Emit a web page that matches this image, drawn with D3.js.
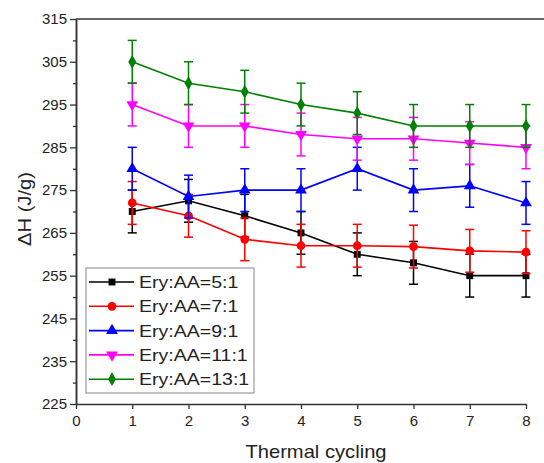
<!DOCTYPE html>
<html>
<head>
<meta charset="utf-8">
<script src="https://cdn.jsdelivr.net/npm/d3@7"></script>
<style>
	body { margin: 0; background: #fff; }
	text { font-family: "Liberation Sans", Arial, sans-serif; fill: #222; }
</style>
</head>
<body>
<div id="chart"></div>
<script>
// data
const cycles = [1, 2, 3, 4, 5, 6, 7, 8];
const labels = ['Ery:AA=5:1', 'Ery:AA=7:1', 'Ery:AA=9:1', 'Ery:AA=11:1', 'Ery:AA=13:1'];
const ery5 = [270, 272.5, 269, 265, 260, 258, 255, 255];
const ery7 = [272, 269, 263.5, 262, 262, 261.8, 260.8, 260.5];
const ery9 = [280, 273.5, 275, 275, 280, 275, 276, 272];
const ery11 = [295, 290, 290, 288, 287, 287, 286, 285];
const ery13 = [305, 300, 298, 295, 293, 290, 290, 290];
const errBar = 5;
const yTicks = [225, 235, 245, 255, 265, 275, 285, 295, 305, 315];
const xTicks = [0, 1, 2, 3, 4, 5, 6, 7, 8];

const colors = ['#000000', '#ff0000', '#0000ff', '#ff00ff', '#008000'];
const symbols = [d3.symbolSquare, d3.symbolCircle, d3.symbolTriangle, 'down', d3.symbolDiamond];
const seriesVals = [ery5, ery7, ery9, ery11, ery13];

const w = 544, h = 463;
const m = { left: 76, right: 18, top: 19, bottom: 59 };

let svg = d3.select('#chart').append('svg')
	.attr('width', w).attr('height', h);

const x = d3.scaleLinear().domain([0, 8]).range([m.left, w - m.right]);
const y = d3.scaleLinear().domain([225, 315]).range([h - m.bottom, m.top]);

// top frame line (figure is cropped on the right)
svg.append('line')
	.attr('x1', m.left).attr('x2', w).attr('y1', y(315)).attr('y2', y(315))
	.attr('stroke', '#333').attr('stroke-width', 1.5);

// axes
let xAxis = svg.append('g')
	.attr('transform', 'translate(0,' + y(225) + ')')
	.call(d3.axisBottom(x).tickValues(xTicks).tickFormat(d3.format('d')).tickSize(5).tickSizeOuter(0));
let yMinor = svg.append('g')
	.attr('transform', 'translate(' + x(0) + ',0)')
	.call(d3.axisLeft(y).tickValues(d3.range(230, 315, 10)).tickFormat('').tickSize(3).tickSizeOuter(0));
let yAxis = svg.append('g')
	.attr('transform', 'translate(' + x(0) + ',0)')
	.call(d3.axisLeft(y).tickValues(yTicks).tickSize(6).tickSizeOuter(0));

[xAxis, yAxis, yMinor].forEach(function(g) {
	g.select('.domain').attr('stroke', '#333').attr('stroke-width', 1.5);
	g.selectAll('.tick line').attr('stroke', '#333').attr('stroke-width', 1.3);
	g.selectAll('.tick text').attr('font-size', 15).attr('fill', '#222')
		.style('font-family', '"Liberation Sans", Arial, sans-serif');
});
xAxis.selectAll('.tick text').attr('dy', '0.9em');
yAxis.selectAll('.tick text').attr('x', -9);

// axis titles
svg.append('text')
	.attr('transform', 'translate(316,458) scale(1.12,1)')
	.attr('text-anchor', 'middle').attr('font-size', 18)
	.text('Thermal cycling');
svg.append('text')
	.attr('transform', 'translate(31,209) rotate(-90) scale(1.12,1)')
	.attr('text-anchor', 'middle').attr('font-size', 18)
	.text('ΔH (J/g)');

function markerPath(sym) {
	if (sym === 'down')
		return d3.symbol(d3.symbolTriangle).size(60)();
	return d3.symbol(sym).size(sym === d3.symbolSquare ? 48 : (sym === d3.symbolDiamond ? 55 : 60))();
}

const line = d3.line().x(function(d, i) { return x(cycles[i]) }).y(function(d) { return y(d) });

seriesVals.forEach(function(vals, s) {
	let g = svg.append('g');
	let c = colors[s];

	// error bars
	vals.forEach(function(v, i) {
		let cx = x(cycles[i]);
		g.append('line')
			.attr('x1', cx).attr('x2', cx).attr('y1', y(v - errBar)).attr('y2', y(v + errBar))
			.attr('stroke', c).attr('stroke-width', 1.5);
		[v - errBar, v + errBar].forEach(function(e) {
			g.append('line')
				.attr('x1', cx - 4.5).attr('x2', cx + 4.5).attr('y1', y(e)).attr('y2', y(e))
				.attr('stroke', c).attr('stroke-width', 1.5);
		});
	});

	g.append('path')
		.attr('d', line(vals))
		.attr('fill', 'none').attr('stroke', c).attr('stroke-width', 1.6);

	g.selectAll('path.mk')
		.data(vals)
		.enter()
		.append('path')
		.attr('class', 'mk')
		.attr('d', markerPath(symbols[s]))
		.attr('transform', function(d, i) {
			return 'translate(' + x(cycles[i]) + ',' + y(d) + ')' + (symbols[s] === 'down' ? ' rotate(180)' : '');
		})
		.attr('fill', c);
});

// legend
let legend = svg.append('g').attr('transform', 'translate(86,268)');
legend.append('rect')
	.attr('width', 168).attr('height', 125)
	.attr('fill', '#fff').attr('stroke', '#999').attr('stroke-width', 1.2);
labels.forEach(function(lab, s) {
	let ly = 14 + s * 24.3;
	let c = colors[s];
	legend.append('line')
		.attr('x1', 3).attr('x2', 48).attr('y1', ly).attr('y2', ly)
		.attr('stroke', c).attr('stroke-width', 1.6);
	legend.append('path')
		.attr('d', markerPath(symbols[s]))
		.attr('transform', 'translate(26,' + ly + ')' + (symbols[s] === 'down' ? ' rotate(180)' : ''))
		.attr('fill', c);
	legend.append('text')
		.attr('transform', 'translate(53,' + ly + ') scale(1.15,1)')
		.attr('dy', '0.36em')
		.attr('font-size', 17)
		.text(lab);
});
</script>
</body>
</html>
